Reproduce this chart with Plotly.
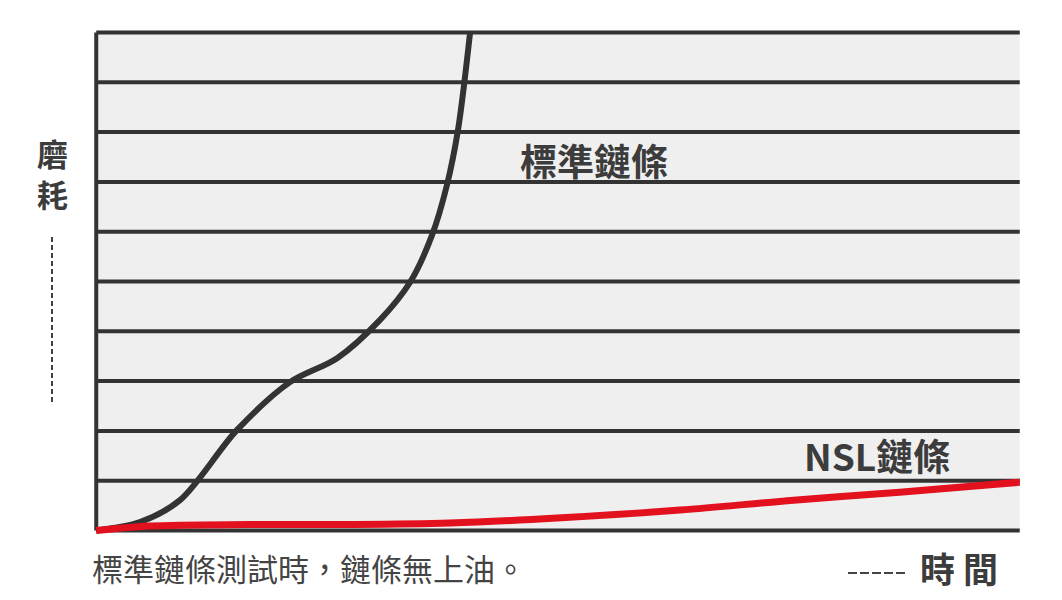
import plotly.graph_objects as go

# Data (x: time 0-100, y: wear 0-10)
std_x = [0, 4.74, 9.07, 15.25, 20.98, 26.08, 30.73, 34.0, 36.36, 37.98, 39.17, 40.48]
std_y = [0, 0.17, 0.61, 2.02, 2.98, 3.46, 4.23, 4.99, 5.93, 6.94, 8.04, 10.0]
nsl_x = [0, 5.8, 16.6, 27.5, 38.3, 49.9, 63.2, 75.5, 87.0, 100]
nsl_y = [0, 0.09, 0.12, 0.12, 0.15, 0.25, 0.41, 0.61, 0.77, 0.97]
grid_levels = [0, 1, 2, 3, 4, 5, 6, 7, 8, 9, 10]

FONT = "Noto Sans CJK TC"
DARK = "#333333"
TXT = "#3c3c3c"

# pixel -> paper helpers (plot area: left 87, width 942, bottom at 538, height 513)
def px(x):
    return (x - 87) / 942.0

def py(y):
    return (538 - y) / 513.0

fig = go.Figure()

shapes = [dict(type="rect", xref="x", yref="y", x0=0, x1=100, y0=0, y1=10,
               fillcolor="#efefef", line=dict(width=0), layer="below")]
for g in grid_levels:
    shapes.append(dict(type="line", xref="x", yref="y", x0=0, x1=100, y0=g, y1=g,
                       line=dict(color=DARK, width=4), layer="below"))
shapes.append(dict(type="line", xref="x", yref="y", x0=0, x1=0, y0=0, y1=10,
                   line=dict(color=DARK, width=4), layer="below"))
# dashed wear indicator (vertical) and time indicator (horizontal)
shapes.append(dict(type="line", xref="paper", yref="paper", x0=px(52), x1=px(52),
                   y0=py(402), y1=py(235), line=dict(color="#444444", width=2, dash="5px,3px")))
shapes.append(dict(type="line", xref="paper", yref="paper", x0=px(848), x1=px(908),
                   y0=py(573), y1=py(573), line=dict(color="#444444", width=2, dash="9px,3px")))

fig.add_trace(go.Scatter(x=std_x, y=std_y, mode="lines",
                         line=dict(color=DARK, width=6, shape="spline", smoothing=0.9),
                         hoverinfo="skip"))
fig.add_trace(go.Scatter(x=nsl_x, y=nsl_y, mode="lines",
                         line=dict(color="#e3101e", width=7, shape="spline", smoothing=1.0),
                         hoverinfo="skip"))

def ann(text, x, y, size, color=TXT, xanchor="center"):
    return dict(text=text, x=px(x), y=py(y), xref="paper", yref="paper",
                xanchor=xanchor, yanchor="middle", showarrow=False,
                font=dict(family=FONT, size=size, color=color))

annotations = [
    ann("<b>磨</b>", 52, 152, 31),
    ann("<b>耗</b>", 52, 193, 31),
    ann("<b>標準鏈條</b>", 594, 160, 37),
    ann("<b>NSL鏈條</b>", 877, 455, 37),
    ann("標準鏈條測試時，鏈條無上油。", 90, 568, 31, "#444444", xanchor="left"),
    ann("<b>時 間</b>", 959, 568, 35),
]

fig.update_layout(
    width=1062, height=600,
    margin=dict(l=87, r=33, t=25, b=62),
    paper_bgcolor="white", plot_bgcolor="white",
    showlegend=False,
    shapes=shapes,
    annotations=annotations,
    xaxis=dict(range=[-1, 101], visible=False, fixedrange=True),
    yaxis=dict(range=[-0.15, 10.15], visible=False, fixedrange=True),
)

fig.write_html("out.html", config={"displayModeBar": False})
